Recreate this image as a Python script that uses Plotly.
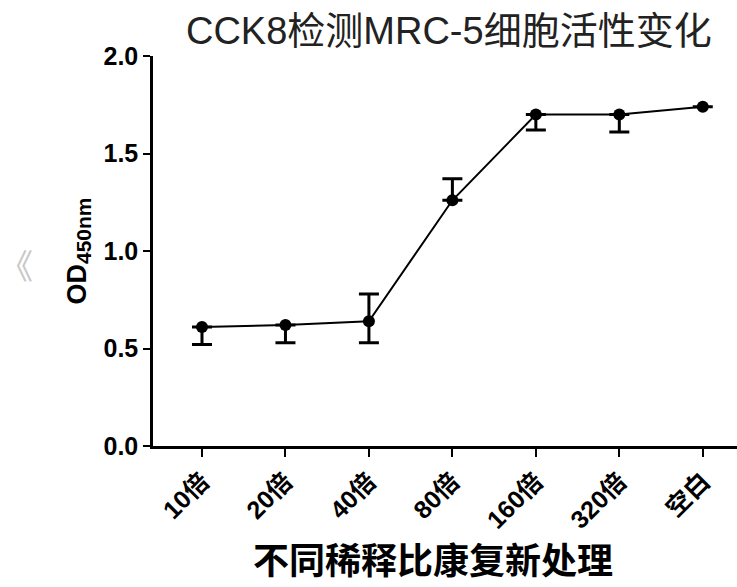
import plotly.graph_objects as go

categories = ["10倍", "20倍", "40倍", "80倍", "160倍", "320倍", "空白"]
means = [0.61, 0.62, 0.64, 1.26, 1.70, 1.70, 1.74]
err_up = [0.0, 0.0, 0.14, 0.11, 0.0, 0.0, 0.0]
err_down = [0.09, 0.09, 0.11, 0.0, 0.08, 0.09, 0.0]
y_ticks = [0.0, 0.5, 1.0, 1.5, 2.0]

x_idx = list(range(len(categories)))

fig = go.Figure()
fig.add_trace(go.Scatter(
    x=x_idx, y=means, mode="lines+markers",
    line=dict(color="black", width=2),
    marker=dict(color="black", size=12, symbol="circle"),
    error_y=dict(type="data", array=err_up, arrayminus=err_down, symmetric=False,
                 color="black", thickness=3, width=10),
    showlegend=False,
))

fig.update_layout(
    width=737, height=587,
    margin=dict(l=153, r=0, t=56, b=141),
    paper_bgcolor="white", plot_bgcolor="white",
    font=dict(family="Liberation Sans, Arial, Noto Sans CJK SC", color="black"),
    title=dict(text="CCK8检测MRC-5细胞活性变化", x=0.609, xanchor="center",
               y=0.947, yanchor="middle",
               font=dict(family="Liberation Sans, Noto Sans CJK SC", size=38, color="#222")),
    xaxis=dict(
        range=[-0.587, 6.41], tickmode="array", tickvals=x_idx,
        ticktext=["<b>" + c + "</b>" for c in categories],
        tickangle=-45, ticks="outside", ticklen=8, tickwidth=2, tickcolor="black",
        showline=True, linecolor="black", linewidth=2.5, showgrid=False, zeroline=False,
        tickfont=dict(size=25, family="Liberation Sans, Noto Sans CJK SC", color="black"),
    ),
    yaxis=dict(
        range=[0, 2.0], tickmode="array", tickvals=y_ticks,
        ticktext=["<b>%.1f</b>" % v for v in y_ticks],
        ticks="outside", ticklen=7, tickwidth=2, tickcolor="black",
        showline=True, linecolor="black", linewidth=2.5, showgrid=False, zeroline=False,
        tickfont=dict(size=25, family="Liberation Sans", color="black"),
        title=dict(text="<b>OD</b><sub><b><span style='font-size:21px'>450nm</span></b></sub>",
                   standoff=10,
                   font=dict(size=27, family="Liberation Sans", color="black")),
    ),
    annotations=[
        dict(text="<b>不同稀释比康复新处理</b>", x=0.48, y=-0.287,
             xref="paper", yref="paper", xanchor="center", yanchor="middle",
             showarrow=False,
             font=dict(size=36, family="Noto Sans CJK SC", color="black")),
        dict(text="《", x=-0.235, y=0.46, xref="paper", yref="paper",
             xanchor="center", yanchor="middle",
             showarrow=False, font=dict(size=34, color="#c8c8c8")),
    ],
)
fig.write_html("out.html")
